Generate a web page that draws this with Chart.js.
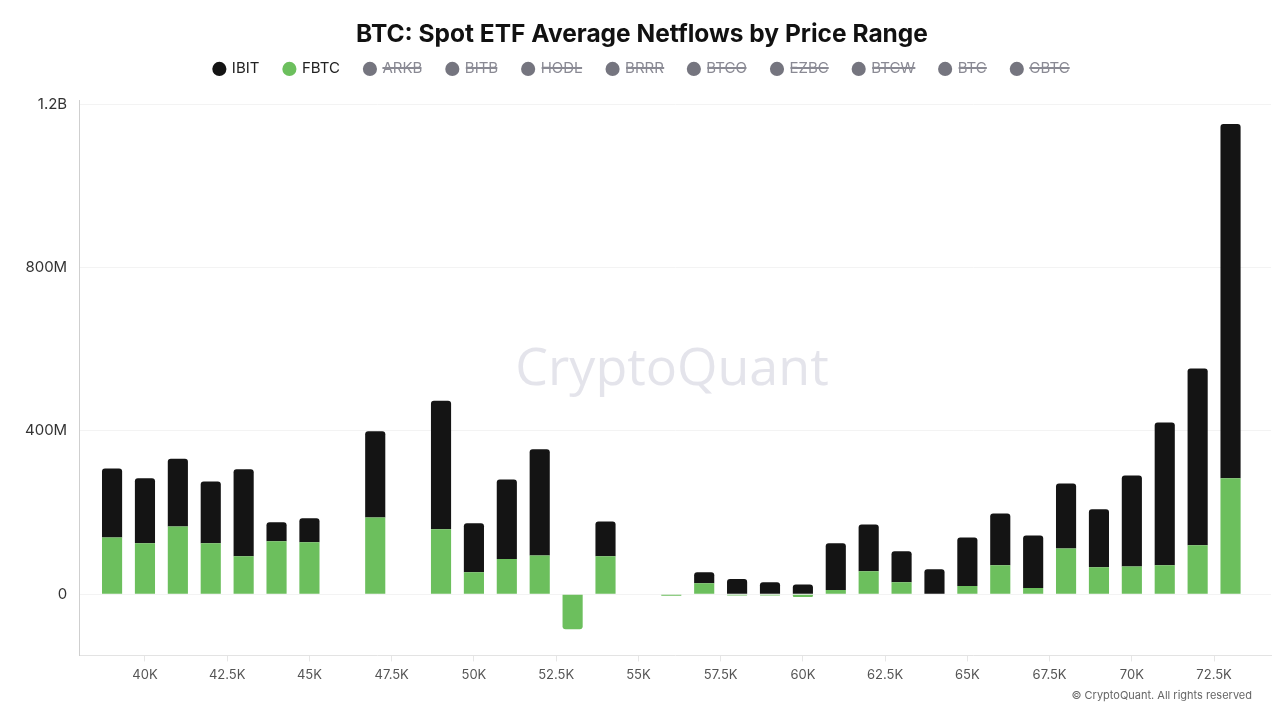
<!DOCTYPE html>
<html>
<head>
<meta charset="utf-8">
<script src="https://cdn.jsdelivr.net/npm/chart.js@4.4.1/dist/chart.umd.min.js"></script>
<style>
  html, body { margin: 0; padding: 0; background: #fff; }
  #wrap { width: 1284px; height: 713px; position: relative; }
</style>
</head>
<body>
<div id="wrap"><canvas id="myChart"></canvas></div>
<script>
// price ranges (USD) - one bar every 1K
var priceLevels = [39000, 40000, 41000, 42000, 43000, 44000, 45000, 46000, 47000, 48000,
  49000, 50000, 51000, 52000, 53000, 54000, 55000, 56000, 57000, 58000,
  59000, 60000, 61000, 62000, 63000, 64000, 65000, 66000, 67000, 68000,
  69000, 70000, 71000, 72000, 73000];

// average netflows, in millions USD
var ibitValues = [169, 159, 166, 151, 213, 46, 59, null, 211, null,
  315, 120, 195, 260, 0, 85, null, 0, 27, 37,
  29, 24, 115, 115, 76, 61, 119, 127, 129, 159,
  142, 223, 350, 433, 868];
var fbtcValues = [139, 125, 166, 125, 93, 130, 127, null, 188, null,
  159, 54, 86, 95, -86, 93, null, -4, 27, -3,
  -3, -7, 10, 56, 29, 0, 20, 71, 15, 112,
  66, 68, 71, 120, 284];

// other funds, hidden in the legend
var hiddenFunds = ["ARKB", "BITB", "HODL", "BRRR", "BTCO", "EZBC", "BTCW", "BTC", "GBTC"];

var yTicks = [0, 400, 800, 1200];
var xTicks = [40000, 42500, 45000, 47500, 50000, 52500, 55000, 57500, 60000, 62500, 65000, 67500, 70000, 72500];

var black = '#141414';
var green = '#6cbf5d';
var grey = '#75757f';

var datasets = [{
    label: 'IBIT',
    data: ibitValues,
    backgroundColor: black,
    borderRadius: 3,
    borderSkipped: 'start',
    order: 1
  }, {
    label: 'FBTC',
    data: fbtcValues,
    backgroundColor: green,
    borderRadius: function(ctx) {
      var v = fbtcValues[ctx.dataIndex];
      var top = ibitValues[ctx.dataIndex];
      return (v < 0 || !top) ? 3 : 0;
    },
    borderSkipped: 'start',
    order: 0
  }];

hiddenFunds.forEach(function(name) {
  datasets.push({ label: name, data: [], backgroundColor: grey, hidden: true, order: 0 });
});

// extra space under the legend
var legendGap = {
  id: 'legendGap',
  beforeInit: function(chart) {
    var fit = chart.legend.fit;
    chart.legend.fit = function() {
      fit.bind(chart.legend)();
      this.height += 14;
    };
  }
};

// watermark + copyright
var decor = {
  id: 'decor',
  beforeDatasetsDraw: function(chart) {
    var ctx = chart.ctx;
    ctx.save();
    ctx.font = '500 52px "Open Sans", sans-serif';
    ctx.fillStyle = 'rgba(205,205,218,0.55)';
    ctx.textAlign = 'center';
    ctx.textBaseline = 'middle';
    ctx.fillText('CryptoQuant', 672, 370);
    ctx.restore();
  },
  afterDraw: function(chart) {
    var ctx = chart.ctx;
    ctx.save();
    ctx.font = '11px Inter, sans-serif';
    ctx.fillStyle = '#666';
    ctx.textAlign = 'right';
    ctx.textBaseline = 'middle';
    ctx.fillText('\u00A9 CryptoQuant. All rights reserved', 1252, 696);
    ctx.restore();
  }
};

const config = {
  type: 'bar',
  data: { labels: priceLevels, datasets: datasets },
  plugins: [legendGap, decor],
  options: {
    responsive: true,
    maintainAspectRatio: false,
    animation: false,
    barPercentage: 0.68,
    categoryPercentage: 0.9,
    layout: { padding: { left: 13, right: 13, top: 20, bottom: 24 } },
    plugins: {
      tooltip: { enabled: false },
      title: {
        display: true,
        text: 'BTC: Spot ETF Average Netflows by Price Range',
        color: '#111',
        font: { family: 'Inter', size: 24.5, weight: 'bold' },
        padding: { top: 0, bottom: -13 }
      },
      legend: {
        display: true,
        labels: {
          usePointStyle: true,
          pointStyle: 'circle',
          boxWidth: 10,
          boxHeight: 10,
          padding: 25,
          color: '#222',
          font: { family: 'Inter', size: 15 },
          sort: function(a, b) { return a.datasetIndex - b.datasetIndex; },
          generateLabels: function(chart) {
            var items = Chart.defaults.plugins.legend.labels.generateLabels(chart);
            items.forEach(function(it) {
              it.fontColor = it.hidden ? '#8a8a94' : '#222';
              it.strokeStyle = it.fillStyle;
              it.lineWidth = 0;
            });
            return items;
          }
        }
      }
    },
    scales: {
      x: {
        type: 'linear',
        stacked: true,
        min: 38000,
        max: 74230,
        offset: false,
        afterBuildTicks: function(scale) {
          scale.ticks = xTicks.map(function(v) { return { value: v }; });
        },
        ticks: {
          color: '#555',
          font: { family: 'Inter', size: 13 },
          padding: 6,
          maxRotation: 0,
          autoSkip: false,
          callback: function(value) { return (value / 1000) + 'K'; }
        },
        grid: { offset: false, drawOnChartArea: false, drawTicks: true, tickLength: 6, color: '#e6e6e6' },
        border: { display: true, color: '#e3e3e3' }
      },
      y: {
        stacked: true,
        min: -150,
        max: 1210,
        afterBuildTicks: function(scale) {
          scale.ticks = yTicks.map(function(v) { return { value: v }; });
        },
        ticks: {
          color: '#333',
          font: { family: 'Inter', size: 15 },
          padding: 12,
          callback: function(value) {
            return value >= 1000 ? (value / 1000) + 'B' : value + (value === 0 ? '' : 'M');
          }
        },
        grid: { color: '#f3f3f3', drawTicks: false },
        border: { display: true, color: '#cfcfcf' }
      }
    }
  }
};

const myChart = new Chart(document.getElementById('myChart'), config);
</script>
</body>
</html>
